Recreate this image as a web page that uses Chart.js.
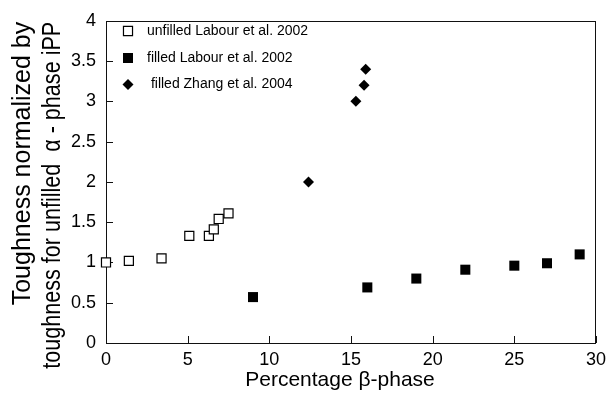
<!DOCTYPE html>
<html>
<head>
<meta charset="utf-8">
<script src="https://cdn.jsdelivr.net/npm/chart.js@4/dist/chart.umd.min.js"></script>
<style>
  html, body { margin: 0; padding: 0; background: #fff; }
  #wrap { width: 612px; height: 399px; position: relative; }
</style>
</head>
<body>
<div id="wrap"><canvas id="toughness"></canvas></div>
<script>
/* ── data ───────────────────────────────────────── */
const unfilledX = [0, 1.4, 3.4, 5.1, 6.3, 6.6, 6.9, 7.5];
const unfilledY = [1.0, 1.02, 1.05, 1.33, 1.33, 1.41, 1.54, 1.61];
const filledX = [9, 16, 19, 22, 25, 27, 29];
const filledY = [0.57, 0.69, 0.80, 0.91, 0.96, 0.99, 1.10];
const zhangX = [12.4, 15.3, 15.8, 15.9];
const zhangY = [2.0, 3.0, 3.2, 3.4];

const seriesLabels = ['unfilled Labour et al. 2002', 'filled Labour et al. 2002', ' filled Zhang et al. 2004'];
const xTitle = 'Percentage \u03b2-phase';
const yTitle = ['Toughness normalized by', 'toughness for unfilled  \u03b1 - phase iPP'];

const FONT = "'Liberation Sans', Arial, Helvetica, sans-serif";

function toPoints(xs, ys) {
  return xs.map((x, i) => ({ x, y: ys[i] }));
}

// box around the plot with short inward ticks on the left and bottom edges
const frame = {
  id: 'frame',
  beforeDatasetsDraw(chart) {
    const { ctx, chartArea: a, scales } = chart;
    const len = 7;
    ctx.save();
    ctx.strokeStyle = '#111';
    ctx.lineWidth = 1;
    ctx.strokeRect(Math.round(a.left) + 0.5, Math.round(a.top) + 0.5,
      Math.round(a.right - a.left) - 1, Math.round(a.bottom - a.top));
    ctx.beginPath();
    scales.x.ticks.forEach(t => {
      const px = Math.round(scales.x.getPixelForValue(t.value)) + 0.5;
      ctx.moveTo(px, a.bottom);
      ctx.lineTo(px, a.bottom - len);
    });
    scales.y.ticks.forEach(t => {
      const py = Math.round(scales.y.getPixelForValue(t.value)) + 0.5;
      ctx.moveTo(a.left, py);
      ctx.lineTo(a.left + len, py);
    });
    ctx.stroke();
    ctx.restore();
  }
};

// axis titles: the y title is two rotated lines hanging from the top of the plot,
// the second one squeezed to fit
const axisTitles = {
  id: 'axisTitles',
  afterDraw(chart) {
    const { ctx, chartArea: a } = chart;
    ctx.save();
    ctx.fillStyle = '#000';
    ctx.textBaseline = 'middle';

    ctx.font = '21px ' + FONT;
    ctx.textAlign = 'center';
    ctx.fillText(xTitle, 340, 380);

    ctx.font = '25px ' + FONT;
    ctx.textAlign = 'right';
    const cols = [23, 53];
    const fit = [300, 347];
    yTitle.forEach((line, i) => {
      ctx.save();
      ctx.translate(cols[i], a.top + 1);
      ctx.rotate(-Math.PI / 2);
      ctx.fillText(line, 0, 0, fit[i]);
      ctx.restore();
    });
    ctx.restore();
  }
};

// legend in the upper-left corner of the plot
const cornerLegend = {
  id: 'cornerLegend',
  afterDatasetsDraw(chart) {
    const { ctx } = chart;
    const rows = [31, 58, 84.5];
    ctx.save();
    ctx.font = '14px ' + FONT;
    ctx.textBaseline = 'middle';
    chart.data.datasets.forEach((ds, i) => {
      ctx.strokeStyle = ds.borderColor;
      ctx.fillStyle = ds.backgroundColor;
      ctx.lineWidth = ds.borderWidth;
      Chart.helpers.drawPoint(ctx, {
        pointStyle: ds.pointStyle, radius: ds.pointRadius, rotation: 0, borderWidth: ds.borderWidth
      }, 128, rows[i]);
      ctx.fillStyle = '#000';
      ctx.fillText(ds.label, 147, rows[i]);
    });
    ctx.restore();
  }
};

new Chart(document.getElementById('toughness'), {
  type: 'scatter',
  data: {
    datasets: [
      {
        label: seriesLabels[0],
        data: toPoints(unfilledX, unfilledY),
        pointStyle: 'rect',
        pointRadius: 6.4,
        backgroundColor: '#fff',
        borderColor: '#000',
        borderWidth: 1.2,
        clip: false,
      },
      {
        label: seriesLabels[1],
        data: toPoints(filledX, filledY),
        pointStyle: 'rect',
        pointRadius: 7.1,
        backgroundColor: '#000',
        borderColor: '#000',
        borderWidth: 0,
        clip: false,
      },
      {
        label: seriesLabels[2],
        data: toPoints(zhangX, zhangY),
        pointStyle: 'rectRot',
        pointRadius: 5.5,
        backgroundColor: '#000',
        borderColor: '#000',
        borderWidth: 0,
        clip: false,
      },
    ]
  },
  options: {
    responsive: true,
    maintainAspectRatio: false,
    animation: false,
    layout: { padding: { top: 12, right: 9, left: 0, bottom: 0 } },
    plugins: {
      legend: { display: false },
      tooltip: { enabled: false },
    },
    scales: {
      x: {
        type: 'linear',
        min: 0,
        max: 30,
        grid: { display: false, drawTicks: false },
        border: { display: false },
        ticks: { stepSize: 5, padding: 6, color: '#000', font: { size: 18, family: FONT } },
        afterFit(scale) { scale.height = 56; },
      },
      y: {
        type: 'linear',
        min: 0,
        max: 4,
        grid: { display: false, drawTicks: false },
        border: { display: false },
        ticks: {
          stepSize: 0.5,
          padding: 10,
          color: '#000',
          font: { size: 18, family: FONT },
          callback: v => String(v),
        },
        afterFit(scale) { scale.width = 106; },
      },
    },
  },
  plugins: [frame, cornerLegend, axisTitles],
});
</script>
</body>
</html>
